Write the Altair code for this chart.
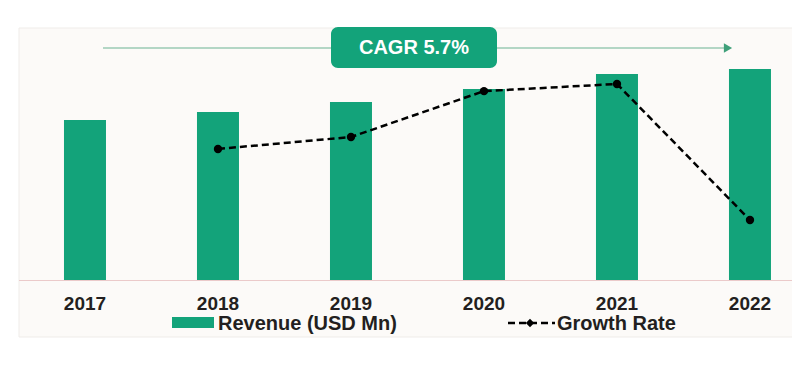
import altair as alt
import pandas as pd

years = ["2017", "2018", "2019", "2020", "2021", "2022"]
revenue = [16.0, 16.8, 17.8, 19.1, 20.6, 21.1]
growth = [None, 4.94, 5.39, 7.12, 7.39, 2.26]
cagr_label = "CAGR 5.7%"
legend_labels = ["Revenue (USD Mn)", "Growth Rate"]

FONT = "Liberation Sans"
GREEN = "#13A37A"
TXT = "#231F20"

df = pd.DataFrame({"year": years, "revenue": revenue, "growth": growth})
one = pd.DataFrame({"a": [0]})

xenc = alt.X("year:N", sort=years, title=None,
             scale=alt.Scale(paddingInner=0.6842, paddingOuter=0.2895, align=0.727),
             axis=alt.Axis(labelFont=FONT, labelFontSize=19, labelFontWeight="bold",
                           labelColor=TXT, labelAngle=0, ticks=False, domain=False,
                           labelPadding=14, grid=False, zindex=2))

panel = alt.Chart(one).mark_rect(fill="#FCFAF8", stroke="#EFECE9", strokeWidth=1).encode(
    x=alt.value(11), x2=alt.value(800), y=alt.value(0), y2=alt.value(309))

bars = alt.Chart(df).mark_bar(color=GREEN).encode(
    x=xenc,
    y=alt.Y("revenue:Q", scale=alt.Scale(domain=[0, 25.2]), axis=None))

base_rule = alt.Chart(one).mark_rule(color="#EBCACA", strokeWidth=1).encode(
    x=alt.value(11), x2=alt.value(800), y=alt.value(252.5))

line = alt.Chart(df).transform_filter("isValid(datum.growth)").mark_line(
    color="black", strokeWidth=2.5, strokeDash=[7, 4]).encode(
    x=alt.X("year:N", sort=years),
    y=alt.Y("growth:Q", scale=alt.Scale(domain=[0, 9.5]), axis=None))

pts = alt.Chart(df).transform_filter("isValid(datum.growth)").mark_point(
    color="black", filled=True, opacity=1, size=70, shape="circle").encode(
    x=alt.X("year:N", sort=years),
    y=alt.Y("growth:Q", scale=alt.Scale(domain=[0, 9.5]), axis=None))

arrow_line = alt.Chart(one).mark_rule(color="#6BB291", strokeWidth=1.2).encode(
    x=alt.value(95), x2=alt.value(718), y=alt.value(20))
arrow_head = alt.Chart(one).mark_point(shape="triangle-right", filled=True, color="#3FA07A",
                                       opacity=1, size=90).encode(
    x=alt.value(720), y=alt.value(20))

box = alt.Chart(one).mark_rect(color=GREEN, cornerRadius=7).encode(
    x=alt.value(323), x2=alt.value(489), y=alt.value(-1), y2=alt.value(40))
box_text = alt.Chart(pd.DataFrame({"t": [cagr_label]})).mark_text(
    font=FONT, fontSize=20, fontWeight="bold", color="white", baseline="middle",
    align="center").encode(x=alt.value(406), y=alt.value(20), text="t:N")

leg_rect = alt.Chart(one).mark_rect(color=GREEN).encode(
    x=alt.value(164), x2=alt.value(206), y=alt.value(289), y2=alt.value(300))
leg_t1 = alt.Chart(pd.DataFrame({"t": [legend_labels[0]]})).mark_text(
    font=FONT, fontSize=20, fontWeight="bold", color=TXT, baseline="middle",
    align="left").encode(x=alt.value(210), y=alt.value(296), text="t:N")
leg_line = alt.Chart(one).mark_rule(color="black", strokeWidth=2.5, strokeDash=[7, 4]).encode(
    x=alt.value(500), x2=alt.value(547), y=alt.value(295))
leg_pt = alt.Chart(one).mark_point(shape="diamond", filled=True, color="black",
                                   opacity=1, size=70).encode(
    x=alt.value(522), y=alt.value(295))
leg_t2 = alt.Chart(pd.DataFrame({"t": [legend_labels[1]]})).mark_text(
    font=FONT, fontSize=20, fontWeight="bold", color=TXT, baseline="middle",
    align="left").encode(x=alt.value(549), y=alt.value(296), text="t:N")

chart = alt.layer(
    panel, bars, base_rule, line, pts, arrow_line, arrow_head, box, box_text,
    leg_rect, leg_t1, leg_line, leg_pt, leg_t2
).resolve_scale(y="independent").properties(
    width=784, height=252,
    autosize=alt.AutoSizeParams(type="none"),
    padding={"top": 20, "left": 0, "right": 0, "bottom": 98},
    background="white"
).configure_view(stroke=None)

chart.save("out.html", embed_options={"renderer": "svg", "actions": False})
